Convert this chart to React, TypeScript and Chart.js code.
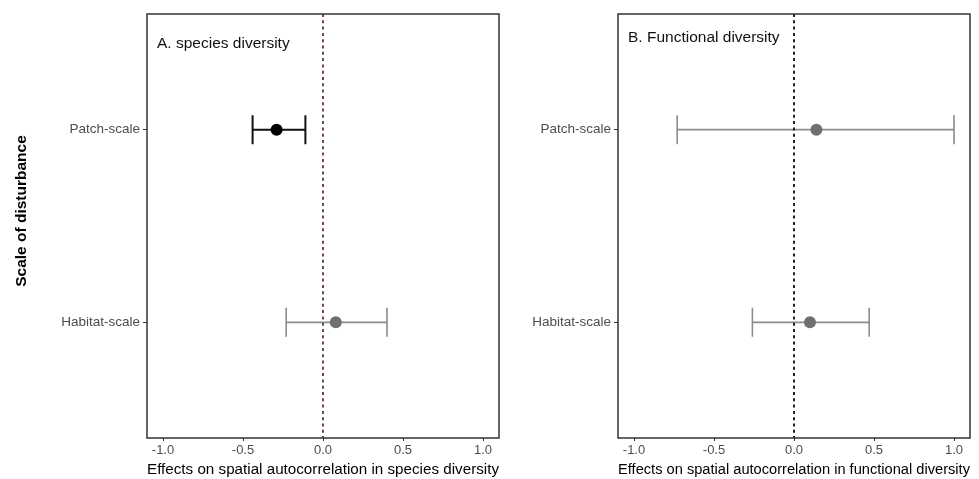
import React, { useEffect, useRef } from "react";
import { Chart, registerables } from "chart.js";

Chart.register(...registerables);

// ---- data ----
const categories = ["Habitat-scale", "Patch-scale"]; // y positions 1, 2
const xTicks = [-1.0, -0.5, 0.0, 0.5, 1.0];

const speciesEst = [0.08, -0.29];
const speciesLo = [-0.23, -0.44];
const speciesHi = [0.40, -0.11];

const functionalEst = [0.10, 0.14];
const functionalLo = [-0.26, -0.73];
const functionalHi = [0.47, 1.0];

type PanelCfg = {
  title: string;
  xTitle: string;
  est: number[];
  lo: number[];
  hi: number[];
  pointColors: string[];
  barColors: string[];
  barWidths: number[];
  zeroColor: string;
  yTitle?: string;
  yAxisWidth: number;
  padRight: number;
  titleOffsetY: number;
};

const FONT = "'Liberation Sans', Arial, sans-serif";

function makeChart(canvas: HTMLCanvasElement, cfg: PanelCfg) {
  const panelPlugin = {
    id: "panelDeco",
    beforeDatasetsDraw(chart: any) {
      const { ctx, chartArea, scales } = chart;
      const x = scales.x;
      const y = scales.y;
      ctx.save();
      // error bars
      cfg.est.forEach((_, i) => {
        const yy = y.getPixelForValue(i + 1);
        const x1 = x.getPixelForValue(cfg.lo[i]);
        const x2 = x.getPixelForValue(cfg.hi[i]);
        ctx.strokeStyle = cfg.barColors[i];
        ctx.lineWidth = cfg.barWidths[i];
        ctx.beginPath();
        ctx.moveTo(x1, yy);
        ctx.lineTo(x2, yy);
        ctx.moveTo(x1, yy - 14.5);
        ctx.lineTo(x1, yy + 14.5);
        ctx.moveTo(x2, yy - 14.5);
        ctx.lineTo(x2, yy + 14.5);
        ctx.stroke();
      });
      // zero line
      const x0 = x.getPixelForValue(0);
      ctx.strokeStyle = cfg.zeroColor;
      ctx.lineWidth = 2;
      ctx.setLineDash([3, 3.3]);
      ctx.beginPath();
      ctx.moveTo(x0, chartArea.top);
      ctx.lineTo(x0, chartArea.bottom);
      ctx.stroke();
      ctx.setLineDash([]);
      ctx.restore();
    },
    afterDraw(chart: any) {
      const { ctx, chartArea } = chart;
      ctx.save();
      ctx.strokeStyle = "#333333";
      ctx.lineWidth = 1.5;
      ctx.strokeRect(
        chartArea.left,
        chartArea.top,
        chartArea.right - chartArea.left,
        chartArea.bottom - chartArea.top
      );
      // panel title
      ctx.fillStyle = "#111111";
      ctx.font = `15.5px ${FONT}`;
      ctx.textAlign = "left";
      ctx.textBaseline = "middle";
      ctx.fillText(cfg.title, chartArea.left + 10, chartArea.top + cfg.titleOffsetY);
      // y title
      if (cfg.yTitle) {
        ctx.save();
        ctx.translate(22, 211);
        ctx.rotate(-Math.PI / 2);
        ctx.font = `bold 15.5px ${FONT}`;
        ctx.textAlign = "center";
        ctx.textBaseline = "middle";
        ctx.fillStyle = "#000000";
        ctx.fillText(cfg.yTitle, 0, 0);
        ctx.restore();
      }
      ctx.restore();
    },
  };

  return new Chart(canvas, {
    type: "scatter",
    data: {
      datasets: [
        {
          data: cfg.est.map((v, i) => ({ x: v, y: i + 1 })),
          pointRadius: 6,
          pointBackgroundColor: cfg.pointColors,
          pointBorderColor: cfg.pointColors,
          pointBorderWidth: 0,
        },
      ],
    },
    options: {
      responsive: false,
      animation: false,
      layout: { padding: { top: 14, right: cfg.padRight, bottom: 0, left: 0 } },
      plugins: { legend: { display: false }, tooltip: { enabled: false } },
      scales: {
        x: {
          type: "linear",
          min: -1.1,
          max: 1.1,
          afterBuildTicks: (s: any) => {
            s.ticks = xTicks.map((v) => ({ value: v }));
          },
          afterFit: (s: any) => {
            s.height = 41;
          },
          ticks: {
            color: "#4d4d4d",
            font: { family: FONT, size: 13 },
            padding: 2,
            maxRotation: 0,
            callback: (v: any) => Number(v).toFixed(1),
          },
          grid: {
            drawOnChartArea: false,
            drawTicks: true,
            tickLength: 3,
            color: "#333333",
          },
          border: { display: false },
          title: {
            display: true,
            text: cfg.xTitle,
            color: "#000000",
            font: { family: FONT, size: 15.3, lineHeight: 1.2 },
            padding: { top: 0, bottom: 0 },
          },
        },
        y: {
          type: "linear",
          min: 0.4,
          max: 2.6,
          afterBuildTicks: (s: any) => {
            s.ticks = categories.map((_, i) => ({ value: i + 1 }));
          },
          afterFit: (s: any) => {
            s.width = cfg.yAxisWidth;
          },
          ticks: {
            color: "#4d4d4d",
            font: { family: FONT, size: 13.5 },
            padding: 3,
            callback: (v: any) => categories[Math.round(Number(v)) - 1] ?? "",
          },
          grid: {
            drawOnChartArea: false,
            drawTicks: true,
            tickLength: 4,
            color: "#333333",
          },
          border: { display: false },
        },
      },
    },
    plugins: [panelPlugin],
  } as any);
}

function Panel({ cfg, left, width }: { cfg: PanelCfg; left: number; width: number }) {
  const ref = useRef<HTMLCanvasElement | null>(null);
  useEffect(() => {
    if (!ref.current) return;
    const c = makeChart(ref.current, cfg);
    return () => c.destroy();
  }, []);
  return (
    <canvas
      ref={ref}
      width={width}
      height={479}
      style={{ position: "absolute", left, top: 0, width, height: 479, display: "block" }}
    />
  );
}

export default function App() {
  const left: PanelCfg = {
    title: "A. species diversity",
    xTitle: "Effects on spatial autocorrelation in species diversity",
    est: speciesEst,
    lo: speciesLo,
    hi: speciesHi,
    pointColors: ["#6f6f6f", "#000000"],
    barColors: ["#8c8c8c", "#111111"],
    barWidths: [1.6, 2],
    zeroColor: "#6e4a52",
    yTitle: "Scale of disturbance",
    yAxisWidth: 147,
    padRight: 6,
    titleOffsetY: 30,
  };
  const right: PanelCfg = {
    title: "B. Functional diversity",
    xTitle: "Effects on spatial autocorrelation in functional diversity",
    est: functionalEst,
    lo: functionalLo,
    hi: functionalHi,
    pointColors: ["#6f6f6f", "#6f6f6f"],
    barColors: ["#8c8c8c", "#8c8c8c"],
    barWidths: [1.6, 1.6],
    zeroColor: "#222222",
    yAxisWidth: 113,
    padRight: 9,
    titleOffsetY: 24,
  };
  return (
    <div style={{ position: "absolute", left: 0, top: 0, width: 979, height: 479, background: "#ffffff" }}>
      <Panel cfg={left} left={0} width={505} />
      <Panel cfg={right} left={505} width={474} />
    </div>
  );
}
